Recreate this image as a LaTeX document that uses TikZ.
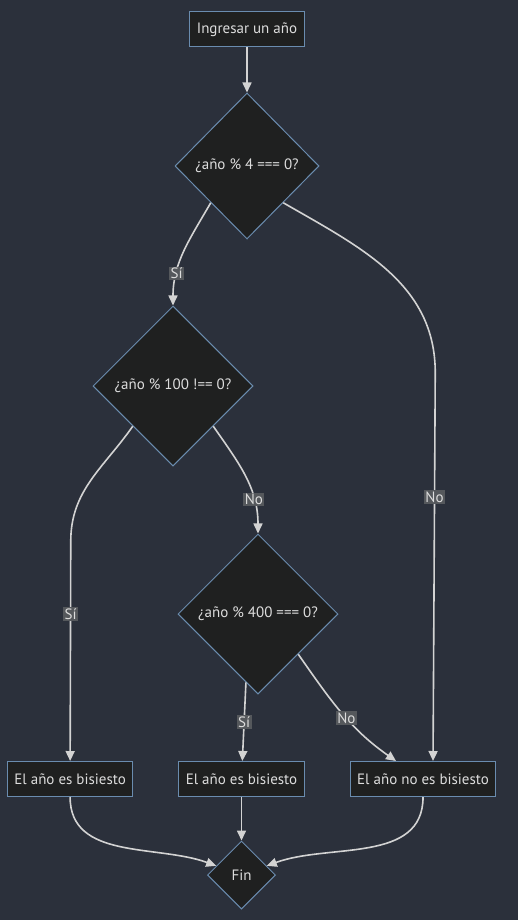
\documentclass[tikz,border=0pt]{standalone}
\usepackage{fontspec}
\setmainfont{PT Sans}
\usetikzlibrary{shapes.geometric,arrows.meta,positioning}

\definecolor{bgdark}{HTML}{2B303B}
\definecolor{nodefill}{HTML}{1F2020}
\definecolor{nodeline}{HTML}{6A8CAF}
\definecolor{edgeline}{HTML}{D3D3D3}
\definecolor{textgrey}{HTML}{DDDDDD}
\definecolor{labelfill}{HTML}{55585C}

\tikzset{
  proc/.style={rectangle, draw=nodeline, fill=nodefill, text=textgrey, line width=1pt,
               minimum height=35pt, inner xsep=7pt, font=\fontsize{15}{18}\selectfont},
  decide/.style={diamond, draw=nodeline, fill=nodefill, text=textgrey, line width=1pt,
                 inner sep=0pt, font=\fontsize{15}{18}\selectfont},
  lbl/.style={fill=labelfill, text=textgrey, inner sep=1.5pt, font=\fontsize{15}{18}\selectfont},
  flow/.style={->, draw=edgeline, line width=1.6pt},
  every edge/.style={draw=edgeline, line width=1.6pt}
}

\begin{document}
\begin{tikzpicture}[x=1pt, y=1pt, >={Triangle[length=10pt,width=9pt]}, node distance=43.5pt]
    \useasboundingbox[fill=bgdark] (0,0) rectangle (518,-920);

    \node[proc]                            (start)  at (247,-29.5)                         {Ingresar un año};
    \node[decide, minimum width=144pt, minimum height=146pt] (mod4)   [below=45pt of start]                   {¿año \% 4 === 0?};
    \node[decide, minimum size=160pt]      (mod100) [below=66pt of mod4, xshift=-74pt]     {¿año \% 100 !== 0?};
    \node[decide, minimum size=160pt]      (mod400) [below=67pt of mod100, xshift=85pt]    {¿año \% 400 === 0?};
    \node[proc]                            (leap2)  [below=66.5pt of mod400, xshift=-16.5pt] {El año es bisiesto};
    \node[proc]                            (leap1)  [left=45pt of leap2]                   {El año es bisiesto};
    \node[proc]                            (noleap) [right=45pt of leap2]                  {El año no es bisiesto};
    \node[decide, minimum size=68pt]       (fin)    [below=of leap2]                       {Fin};

    \path[->]   (start)            edge                                                    (mod4)
                (mod4.south west)  edge [out=-120, in=90]  node[lbl, pos=0.72] {Sí}         (mod100)
                (mod100.south east) edge [out=-55, in=90]  node[lbl, pos=0.72] {No}         (mod400)
                (mod400.-100)      edge                    node[lbl]           {Sí}         (leap2)
                (mod400.south east) edge [out=-55, in=145] node[lbl, pos=0.55] {No}         ([xshift=-27pt]noleap.north)
                (leap1)            edge [out=-90, in=160]                                  (fin.160)
                (leap2)            edge                                                    (fin)
                (noleap)           edge [out=-90, in=20]                                   (fin.20);

    \draw[flow] (mod4.south east) to[out=-30, in=90] ++(152,-170)
                -- node[lbl, pos=0.32] {No} ([xshift=10pt]noleap.north);
    \draw[flow] (mod100.south west) to[out=-125, in=90] ++(-62,-115)
                -- node[lbl, pos=0.33] {Sí} (leap1);
\end{tikzpicture}
\end{document}
